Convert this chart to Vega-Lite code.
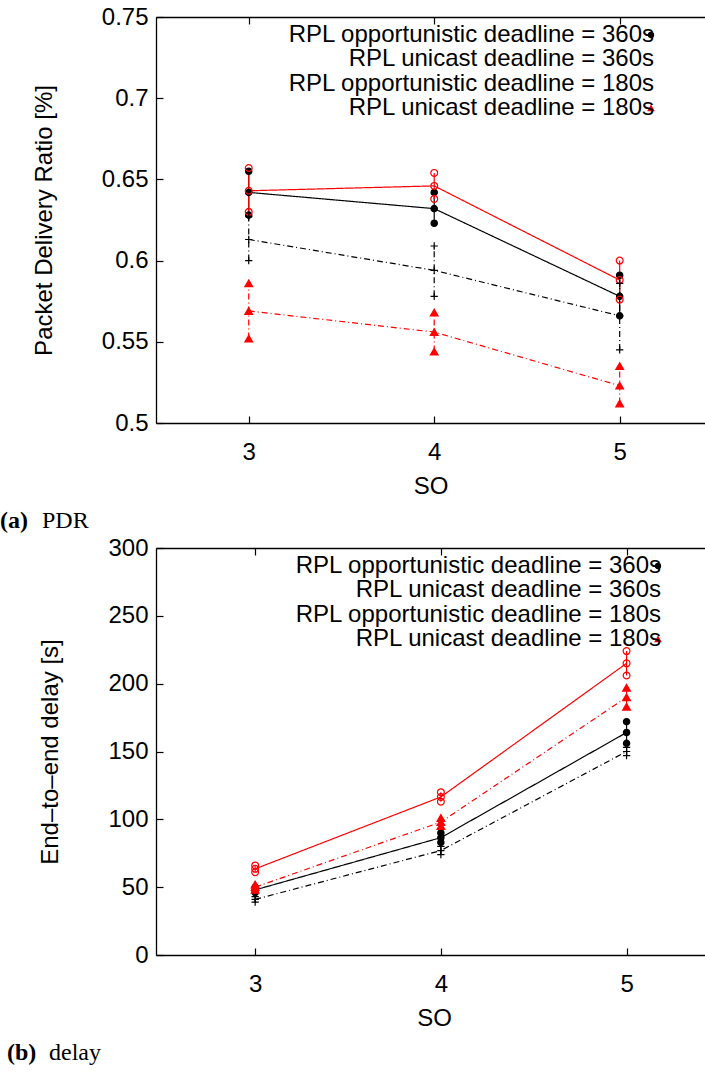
{
  "$schema": "https://vega.github.io/schema/vega-lite/v6.json",
  "background": "white",
  "padding": {"left": 0, "top": 5, "right": 0, "bottom": 0},
  "autosize": {"type": "pad"},
  "config": {
    "font": "Liberation Sans",
    "view": {"stroke": null},
    "axis": {
      "grid": false,
      "labelFont": "Liberation Sans", "labelFontSize": 24, "labelColor": "black",
      "titleFont": "Liberation Sans", "titleFontSize": 24, "titleFontWeight": "normal", "titleColor": "black",
      "domainColor": "black", "domainWidth": 1.3,
      "tickColor": "black", "tickWidth": 1.2, "tickSize": -7
    },
    "legend": {
      "orient": "none", "title": null, "padding": 0,
      "symbolSize": 64, "symbolStrokeWidth": 0,
      "labelFont": "Liberation Sans", "labelFontSize": 24, "labelColor": "black",
      "labelAlign": "right", "labelOffset": -9, "labelLimit": 1000, "rowPadding": 0.3
    },
    "title": {
      "orient": "bottom", "anchor": "start", "frame": "group",
      "font": "Liberation Serif", "fontSize": 24, "fontWeight": "bold", "color": "black",
      "subtitleFont": "Liberation Serif", "subtitleFontSize": 24, "subtitleFontWeight": "normal", "subtitleColor": "black",
      "subtitlePadding": -24, "offset": 11
    }
  },
  "datasets": {
    "pdr": [
      {"series": "RPL opportunistic deadline = 360s", "so": 3, "lo": 0.628, "mean": 0.642, "hi": 0.655},
      {"series": "RPL opportunistic deadline = 360s", "so": 4, "lo": 0.623, "mean": 0.632, "hi": 0.642},
      {"series": "RPL opportunistic deadline = 360s", "so": 5, "lo": 0.566, "mean": 0.578, "hi": 0.591},
      {"series": "RPL unicast deadline = 360s", "so": 3, "lo": 0.630, "mean": 0.643, "hi": 0.657},
      {"series": "RPL unicast deadline = 360s", "so": 4, "lo": 0.638, "mean": 0.646, "hi": 0.654},
      {"series": "RPL unicast deadline = 360s", "so": 5, "lo": 0.576, "mean": 0.588, "hi": 0.600},
      {"series": "RPL opportunistic deadline = 180s", "so": 3, "lo": 0.600, "mean": 0.613, "hi": 0.627},
      {"series": "RPL opportunistic deadline = 180s", "so": 4, "lo": 0.578, "mean": 0.594, "hi": 0.609},
      {"series": "RPL opportunistic deadline = 180s", "so": 5, "lo": 0.545, "mean": 0.566, "hi": 0.586},
      {"series": "RPL unicast deadline = 180s", "so": 3, "lo": 0.552, "mean": 0.569, "hi": 0.586},
      {"series": "RPL unicast deadline = 180s", "so": 4, "lo": 0.544, "mean": 0.556, "hi": 0.568},
      {"series": "RPL unicast deadline = 180s", "so": 5, "lo": 0.512, "mean": 0.523, "hi": 0.535}
    ],
    "delay": [
      {"series": "RPL opportunistic deadline = 360s", "so": 3, "lo": 46, "mean": 48, "hi": 50},
      {"series": "RPL opportunistic deadline = 360s", "so": 4, "lo": 83, "mean": 86.5, "hi": 90},
      {"series": "RPL opportunistic deadline = 360s", "so": 5, "lo": 156, "mean": 164, "hi": 172},
      {"series": "RPL unicast deadline = 360s", "so": 3, "lo": 61, "mean": 63.5, "hi": 66},
      {"series": "RPL unicast deadline = 360s", "so": 4, "lo": 113, "mean": 116.5, "hi": 120},
      {"series": "RPL unicast deadline = 360s", "so": 5, "lo": 206, "mean": 215, "hi": 224},
      {"series": "RPL opportunistic deadline = 180s", "so": 3, "lo": 39, "mean": 41, "hi": 43},
      {"series": "RPL opportunistic deadline = 180s", "so": 4, "lo": 74, "mean": 77, "hi": 80},
      {"series": "RPL opportunistic deadline = 180s", "so": 5, "lo": 147, "mean": 150, "hi": 153},
      {"series": "RPL unicast deadline = 180s", "so": 3, "lo": 48, "mean": 50, "hi": 52},
      {"series": "RPL unicast deadline = 180s", "so": 4, "lo": 95, "mean": 98, "hi": 101},
      {"series": "RPL unicast deadline = 180s", "so": 5, "lo": 183, "mean": 190, "hi": 197}
    ]
  },
  "spacing": 3,
  "columns": 1,
  "align": "none",
  "resolve": {
    "scale": {"color": "independent", "strokeDash": "independent", "shape": "independent", "fill": "independent", "stroke": "independent", "size": "independent", "x": "independent", "y": "independent"},
    "legend": {"color": "independent"}
  },
  "concat": [
    {
      "width": 549, "height": 406,
      "data": {"name": "pdr"},
      "title": {"text": "(a)", "subtitle": "\u200d\u00a0\u00a0\u00a0\u00a0\u00a0\u00a0\u00a0PDR", "dx": -156},
      "resolve": {"axis": {"x": "independent", "y": "independent"}},
      "layer": [
        {
          "mark": {"type": "rule", "strokeWidth": 1.2},
          "encoding": {
            "x": {"field": "so", "type": "quantitative", "scale": {"domain": [2.5, 5.46], "nice": false, "zero": false},
                  "axis": {"values": [3, 4, 5], "format": "d", "title": "SO", "labelPadding": 24, "titlePadding": 10, "orient": "bottom"}},
            "y": {"field": "lo", "type": "quantitative", "scale": {"domain": [0.5, 0.75], "nice": false, "zero": false},
                  "axis": {"values": [0.5, 0.55, 0.6, 0.65, 0.7, 0.75], "format": "~g", "title": "Packet Delivery Ratio [%]", "labelPadding": 15, "titlePadding": 45}},
            "y2": {"field": "hi"},
            "color": {"field": "series", "type": "nominal",
                      "scale": {"domain": ["RPL opportunistic deadline = 360s", "RPL unicast deadline = 360s", "RPL opportunistic deadline = 180s", "RPL unicast deadline = 180s"], "range": ["black", "red", "black", "red"]},
                      "legend": {
                        "legendX": 483, "legendY": 6,
                        "encode": {"symbols": {"update": {
                          "size": {"value": 4356},
                          "shape": {"signal": "datum.value == 'RPL opportunistic deadline = 360s' ? 'M-1,-0.018L1,-0.018L1,0.018L-1,0.018ZM0.106,0A0.106,0.106,0,1,1,-0.106,0A0.106,0.106,0,1,1,0.106,0Z' : datum.value == 'RPL unicast deadline = 360s' ? 'M-1,-0.018L1,-0.018L1,0.018L-1,0.018ZM0.13,0A0.13,0.13,0,1,1,-0.13,0A0.13,0.13,0,1,1,0.13,0ZM0.094,0A0.094,0.094,0,1,0,-0.094,0A0.094,0.094,0,1,0,0.094,0Z' : datum.value == 'RPL opportunistic deadline = 180s' ? 'M-1,-0.018L-0.82,-0.018L-0.82,0.018L-1,0.018ZM-0.73,-0.018L-0.7,-0.018L-0.7,0.018L-0.73,0.018ZM-0.61,-0.018L-0.43,-0.018L-0.43,0.018L-0.61,0.018ZM-0.34,-0.018L-0.31,-0.018L-0.31,0.018L-0.34,0.018ZM-0.22,-0.018L-0.04,-0.018L-0.04,0.018L-0.22,0.018ZM0.05,-0.018L0.08,-0.018L0.08,0.018L0.05,0.018ZM0.17,-0.018L0.35,-0.018L0.35,0.018L0.17,0.018ZM0.44,-0.018L0.47,-0.018L0.47,0.018L0.44,0.018ZM0.56,-0.018L0.74,-0.018L0.74,0.018L0.56,0.018ZM0.83,-0.018L0.86,-0.018L0.86,0.018L0.83,0.018ZM0.95,-0.018L1,-0.018L1,0.018L0.95,0.018ZM-0.12,-0.018L0.12,-0.018L0.12,0.018L-0.12,0.018ZM-0.018,-0.12L0.018,-0.12L0.018,0.12L-0.018,0.12Z' : 'M-1,-0.018L-0.82,-0.018L-0.82,0.018L-1,0.018ZM-0.73,-0.018L-0.7,-0.018L-0.7,0.018L-0.73,0.018ZM-0.61,-0.018L-0.43,-0.018L-0.43,0.018L-0.61,0.018ZM-0.34,-0.018L-0.31,-0.018L-0.31,0.018L-0.34,0.018ZM-0.22,-0.018L-0.04,-0.018L-0.04,0.018L-0.22,0.018ZM0.05,-0.018L0.08,-0.018L0.08,0.018L0.05,0.018ZM0.17,-0.018L0.35,-0.018L0.35,0.018L0.17,0.018ZM0.44,-0.018L0.47,-0.018L0.47,0.018L0.44,0.018ZM0.56,-0.018L0.74,-0.018L0.74,0.018L0.56,0.018ZM0.83,-0.018L0.86,-0.018L0.86,0.018L0.83,0.018ZM0.95,-0.018L1,-0.018L1,0.018L0.95,0.018ZM0,-0.13L0.12,0.09L-0.12,0.09Z'"},
                          "fill": {"signal": "indexof(datum.value, 'unicast') >= 0 ? 'red' : 'black'"},
                          "stroke": {"value": "transparent"},
                          "strokeWidth": {"value": 0},
                          "opacity": {"value": 1}
                        }}}
                      }},
            "strokeDash": {"field": "series", "type": "nominal", "legend": null,
                      "scale": {"domain": ["RPL opportunistic deadline = 360s", "RPL unicast deadline = 360s", "RPL opportunistic deadline = 180s", "RPL unicast deadline = 180s"], "range": [[1, 0], [1, 0], [6, 3, 1, 3], [6, 3, 1, 3]]}}
          }
        },
        {
          "mark": {"type": "line", "strokeWidth": 1.2},
          "encoding": {
            "x": {"field": "so", "type": "quantitative", "axis": {"values": [3, 4, 5], "orient": "top", "labels": false, "title": null}},
            "y": {"field": "mean", "type": "quantitative", "axis": null},
            "color": {"field": "series", "type": "nominal"},
            "strokeDash": {"field": "series", "type": "nominal", "legend": null}
          }
        },
        {
          "transform": [{"fold": ["lo", "mean", "hi"], "as": ["stat", "val"]}],
          "mark": {"type": "point", "filled": true, "opacity": 1, "strokeWidth": 1.2},
          "encoding": {
            "x": {"field": "so", "type": "quantitative", "axis": null},
            "y": {"field": "val", "type": "quantitative", "axis": null},
            "shape": {"field": "series", "type": "nominal", "legend": null,
                      "scale": {"domain": ["RPL opportunistic deadline = 360s", "RPL unicast deadline = 360s", "RPL opportunistic deadline = 180s", "RPL unicast deadline = 180s"], "range": ["circle", "circle", "M-1,0L1,0M0,-1L0,1", "triangle-up"]}},
            "fill": {"field": "series", "type": "nominal", "legend": null,
                      "scale": {"domain": ["RPL opportunistic deadline = 360s", "RPL unicast deadline = 360s", "RPL opportunistic deadline = 180s", "RPL unicast deadline = 180s"], "range": ["black", "transparent", "transparent", "red"]}},
            "stroke": {"field": "series", "type": "nominal", "legend": null,
                      "scale": {"domain": ["RPL opportunistic deadline = 360s", "RPL unicast deadline = 360s", "RPL opportunistic deadline = 180s", "RPL unicast deadline = 180s"], "range": ["black", "red", "black", "red"]}},
            "size": {"field": "series", "type": "nominal", "legend": null,
                      "scale": {"domain": ["RPL opportunistic deadline = 360s", "RPL unicast deadline = 360s", "RPL opportunistic deadline = 180s", "RPL unicast deadline = 180s"], "range": [40, 60, 64, 45]}}
          }
        }
      ]
    },
    {
      "width": 556, "height": 407,
      "data": {"name": "delay"},
      "title": {"text": "(b)", "subtitle": "\u200d\u00a0\u00a0\u00a0\u00a0\u00a0\u00a0\u00a0delay", "dx": -149},
      "resolve": {"axis": {"x": "independent", "y": "independent"}},
      "layer": [
        {
          "mark": {"type": "rule", "strokeWidth": 1.2},
          "encoding": {
            "x": {"field": "so", "type": "quantitative", "scale": {"domain": [2.466, 5.46], "nice": false, "zero": false},
                  "axis": {"values": [3, 4, 5], "format": "d", "title": "SO", "labelPadding": 24, "titlePadding": 10, "orient": "bottom"}},
            "y": {"field": "lo", "type": "quantitative", "scale": {"domain": [0, 300], "nice": false, "zero": false},
                  "axis": {"values": [0, 50, 100, 150, 200, 250, 300], "format": "d", "title": "End\u2013to\u2013end delay [s]", "labelPadding": 15, "titlePadding": 45}},
            "y2": {"field": "hi"},
            "color": {"field": "series", "type": "nominal",
                      "scale": {"domain": ["RPL opportunistic deadline = 360s", "RPL unicast deadline = 360s", "RPL opportunistic deadline = 180s", "RPL unicast deadline = 180s"], "range": ["black", "red", "black", "red"]},
                      "legend": {
                        "legendX": 490, "legendY": 6,
                        "encode": {"symbols": {"update": {
                          "size": {"value": 4356},
                          "shape": {"signal": "datum.value == 'RPL opportunistic deadline = 360s' ? 'M-1,-0.018L1,-0.018L1,0.018L-1,0.018ZM0.106,0A0.106,0.106,0,1,1,-0.106,0A0.106,0.106,0,1,1,0.106,0Z' : datum.value == 'RPL unicast deadline = 360s' ? 'M-1,-0.018L1,-0.018L1,0.018L-1,0.018ZM0.13,0A0.13,0.13,0,1,1,-0.13,0A0.13,0.13,0,1,1,0.13,0ZM0.094,0A0.094,0.094,0,1,0,-0.094,0A0.094,0.094,0,1,0,0.094,0Z' : datum.value == 'RPL opportunistic deadline = 180s' ? 'M-1,-0.018L-0.82,-0.018L-0.82,0.018L-1,0.018ZM-0.73,-0.018L-0.7,-0.018L-0.7,0.018L-0.73,0.018ZM-0.61,-0.018L-0.43,-0.018L-0.43,0.018L-0.61,0.018ZM-0.34,-0.018L-0.31,-0.018L-0.31,0.018L-0.34,0.018ZM-0.22,-0.018L-0.04,-0.018L-0.04,0.018L-0.22,0.018ZM0.05,-0.018L0.08,-0.018L0.08,0.018L0.05,0.018ZM0.17,-0.018L0.35,-0.018L0.35,0.018L0.17,0.018ZM0.44,-0.018L0.47,-0.018L0.47,0.018L0.44,0.018ZM0.56,-0.018L0.74,-0.018L0.74,0.018L0.56,0.018ZM0.83,-0.018L0.86,-0.018L0.86,0.018L0.83,0.018ZM0.95,-0.018L1,-0.018L1,0.018L0.95,0.018ZM-0.12,-0.018L0.12,-0.018L0.12,0.018L-0.12,0.018ZM-0.018,-0.12L0.018,-0.12L0.018,0.12L-0.018,0.12Z' : 'M-1,-0.018L-0.82,-0.018L-0.82,0.018L-1,0.018ZM-0.73,-0.018L-0.7,-0.018L-0.7,0.018L-0.73,0.018ZM-0.61,-0.018L-0.43,-0.018L-0.43,0.018L-0.61,0.018ZM-0.34,-0.018L-0.31,-0.018L-0.31,0.018L-0.34,0.018ZM-0.22,-0.018L-0.04,-0.018L-0.04,0.018L-0.22,0.018ZM0.05,-0.018L0.08,-0.018L0.08,0.018L0.05,0.018ZM0.17,-0.018L0.35,-0.018L0.35,0.018L0.17,0.018ZM0.44,-0.018L0.47,-0.018L0.47,0.018L0.44,0.018ZM0.56,-0.018L0.74,-0.018L0.74,0.018L0.56,0.018ZM0.83,-0.018L0.86,-0.018L0.86,0.018L0.83,0.018ZM0.95,-0.018L1,-0.018L1,0.018L0.95,0.018ZM0,-0.13L0.12,0.09L-0.12,0.09Z'"},
                          "fill": {"signal": "indexof(datum.value, 'unicast') >= 0 ? 'red' : 'black'"},
                          "stroke": {"value": "transparent"},
                          "strokeWidth": {"value": 0},
                          "opacity": {"value": 1}
                        }}}
                      }},
            "strokeDash": {"field": "series", "type": "nominal", "legend": null,
                      "scale": {"domain": ["RPL opportunistic deadline = 360s", "RPL unicast deadline = 360s", "RPL opportunistic deadline = 180s", "RPL unicast deadline = 180s"], "range": [[1, 0], [1, 0], [6, 3, 1, 3], [6, 3, 1, 3]]}}
          }
        },
        {
          "mark": {"type": "line", "strokeWidth": 1.2},
          "encoding": {
            "x": {"field": "so", "type": "quantitative", "axis": {"values": [3, 4, 5], "orient": "top", "labels": false, "title": null}},
            "y": {"field": "mean", "type": "quantitative", "axis": null},
            "color": {"field": "series", "type": "nominal"},
            "strokeDash": {"field": "series", "type": "nominal", "legend": null}
          }
        },
        {
          "transform": [{"fold": ["lo", "mean", "hi"], "as": ["stat", "val"]}],
          "mark": {"type": "point", "filled": true, "opacity": 1, "strokeWidth": 1.2},
          "encoding": {
            "x": {"field": "so", "type": "quantitative", "axis": null},
            "y": {"field": "val", "type": "quantitative", "axis": null},
            "shape": {"field": "series", "type": "nominal", "legend": null,
                      "scale": {"domain": ["RPL opportunistic deadline = 360s", "RPL unicast deadline = 360s", "RPL opportunistic deadline = 180s", "RPL unicast deadline = 180s"], "range": ["circle", "circle", "M-1,0L1,0M0,-1L0,1", "triangle-up"]}},
            "fill": {"field": "series", "type": "nominal", "legend": null,
                      "scale": {"domain": ["RPL opportunistic deadline = 360s", "RPL unicast deadline = 360s", "RPL opportunistic deadline = 180s", "RPL unicast deadline = 180s"], "range": ["black", "transparent", "transparent", "red"]}},
            "stroke": {"field": "series", "type": "nominal", "legend": null,
                      "scale": {"domain": ["RPL opportunistic deadline = 360s", "RPL unicast deadline = 360s", "RPL opportunistic deadline = 180s", "RPL unicast deadline = 180s"], "range": ["black", "red", "black", "red"]}},
            "size": {"field": "series", "type": "nominal", "legend": null,
                      "scale": {"domain": ["RPL opportunistic deadline = 360s", "RPL unicast deadline = 360s", "RPL opportunistic deadline = 180s", "RPL unicast deadline = 180s"], "range": [40, 60, 64, 45]}}
          }
        }
      ]
    }
  ]
}
